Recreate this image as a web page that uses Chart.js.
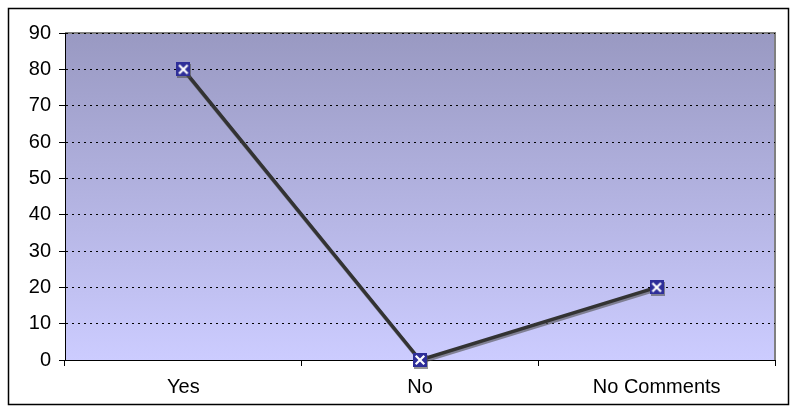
<!DOCTYPE html>
<html>
<head>
<meta charset="utf-8">
<script src="https://cdn.jsdelivr.net/npm/chart.js@4.4.1/dist/chart.umd.min.js"></script>
<style>
  html, body { margin: 0; padding: 0; background: #fff; }
  #wrap { width: 797px; height: 414px; }
</style>
</head>
<body>
<div id="wrap"><canvas id="c"></canvas></div>
<script>
var categories = ['Yes', 'No', 'No Comments'];
var responses = [80, 0, 20];
var yMin = 0, yMax = 90, yStep = 10;

// square marker with white cross
function makeMarker() {
    var s = 14;
    var cv = document.createElement('canvas');
    cv.width = s; cv.height = s;
    var g = cv.getContext('2d');
    g.fillStyle = '#2e2e99';
    g.fillRect(0, 0, s, s);
    g.strokeStyle = '#ffffff';
    g.lineWidth = 2.2;
    g.lineCap = 'square';
    g.beginPath();
    g.moveTo(3.5, 3.5); g.lineTo(s - 3.5, s - 3.5);
    g.moveTo(s - 3.5, 3.5); g.lineTo(3.5, s - 3.5);
    g.stroke();
    return cv;
}

var frame = {
    id: 'frame',
    beforeDraw: function(chart) {
        var ctx = chart.ctx, a = chart.chartArea;
        ctx.save();
        ctx.fillStyle = '#ffffff';
        ctx.fillRect(0, 0, chart.width, chart.height);
        var grad = ctx.createLinearGradient(0, a.top, 0, a.bottom);
        grad.addColorStop(0, '#9999c2');
        grad.addColorStop(1, '#ccccff');
        ctx.fillStyle = grad;
        ctx.fillRect(a.left, a.top, a.right - a.left, a.bottom - a.top);
        ctx.strokeStyle = '#808080';
        ctx.lineWidth = 2;
        ctx.beginPath();
        ctx.moveTo(a.left, a.top);
        ctx.lineTo(a.right, a.top);
        ctx.lineTo(a.right, a.bottom);
        ctx.stroke();
        ctx.strokeStyle = '#000000';
        ctx.lineWidth = 1.5;
        ctx.strokeRect(8.5, 8.5, 780, 396);
        ctx.restore();
    },
    beforeDatasetDraw: function(chart) {
        var ctx = chart.ctx;
        ctx.save();
        ctx.shadowColor = 'rgba(80,80,80,0.6)';
        ctx.shadowOffsetX = 1;
        ctx.shadowOffsetY = 2;
    },
    afterDatasetDraw: function(chart) {
        chart.ctx.restore();
    }
};

new Chart(document.getElementById('c'), {
    type: 'line',
    data: {
        labels: categories,
        datasets: [{
            data: responses,
            borderColor: '#333333',
            borderWidth: 3.5,
            pointStyle: makeMarker(),
            pointRadius: 7,
            fill: false,
            clip: false,
            tension: 0
        }]
    },
    options: {
        responsive: true,
        maintainAspectRatio: false,
        animation: false,
        layout: { padding: { left: 0, top: 33, right: 22, bottom: 0 } },
        plugins: { legend: { display: false }, tooltip: { enabled: false } },
        scales: {
            x: {
                offset: true,
                grid: { offset: true, drawOnChartArea: false, color: '#000', tickLength: 6, tickColor: '#000' },
                border: { color: '#000', width: 1 },
                ticks: { color: '#000', font: { family: 'Liberation Sans', size: 20 }, padding: 9, maxRotation: 0 },
                afterFit: function(s) { s.height = 54; }
            },
            y: {
                min: yMin,
                max: yMax,
                grid: { color: '#000', tickLength: 6, tickColor: '#000', drawTicks: true },
                border: { color: '#000', width: 1, dash: [2, 4] },
                ticks: { stepSize: yStep, color: '#000', font: { family: 'Liberation Sans', size: 20 }, padding: 8 },
                afterFit: function(s) { s.width = 65; }
            }
        }
    },
    plugins: [frame]
});
</script>
</body>
</html>
